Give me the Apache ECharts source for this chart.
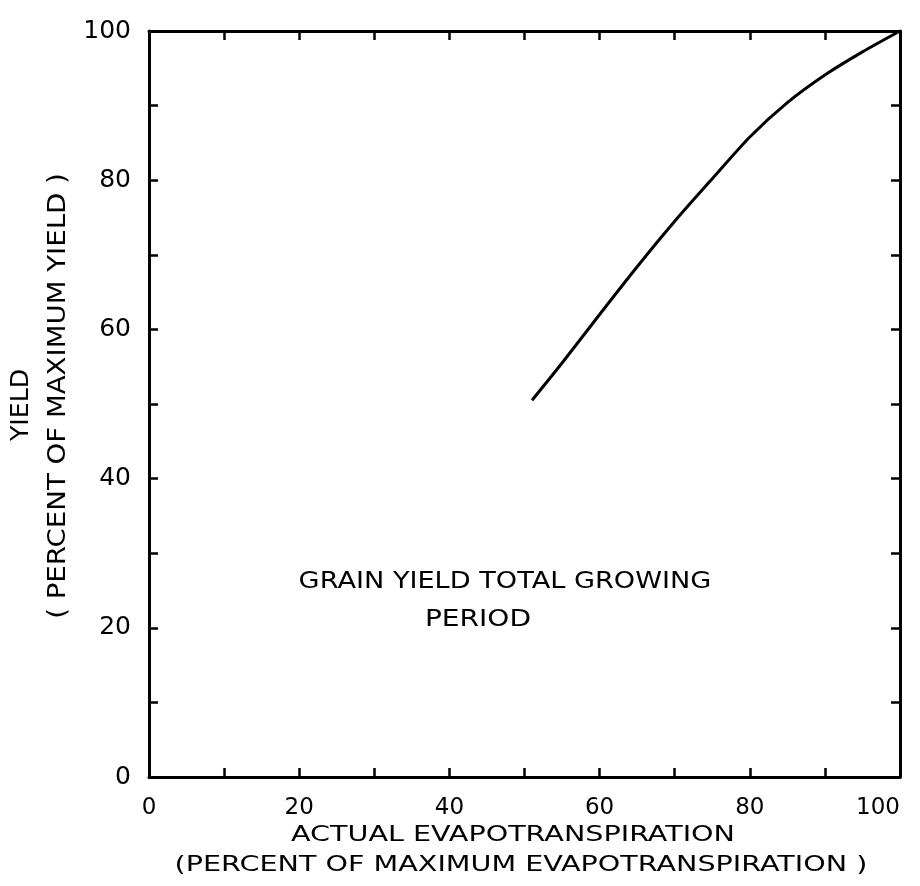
<!DOCTYPE html>
<html>
<head>
<meta charset="utf-8">
<script src="https://cdn.jsdelivr.net/npm/echarts@6/dist/echarts.min.js"></script>
<style>
html,body{margin:0;padding:0;background:#fff;}
#chart{width:920px;height:886px;}
</style>
</head>
<body>
<div id="chart"></div>
<script>
// Data
var etPercent   = [51, 55, 60, 65, 70, 75, 80, 85, 90, 95, 100];
var yieldPercent = [50.5, 55.5, 62, 68.4, 74.5, 80.2, 85.8, 90.4, 94.1, 97.2, 100];
var xTickLabels = ['0', '20', '40', '60', '80', '100'];
var yTickLabels = ['0', '20', '40', '60', '80', '100'];
var xTitle1 = 'ACTUAL EVAPOTRANSPIRATION';
var xTitle2 = '(PERCENT OF MAXIMUM EVAPOTRANSPIRATION )';
var yTitle1 = 'YIELD';
var yTitle2 = '( PERCENT OF MAXIMUM YIELD )';
var noteLine1 = 'GRAIN YIELD TOTAL GROWING';
var noteLine2 = 'PERIOD';

var points = etPercent.map(function (x, i) { return [x, yieldPercent[i]]; });
var FONT = 'DejaVu Sans';
function lab(list) {
  return function (v) { var s = String(v); return list.indexOf(s) >= 0 ? s : ''; };
}
var axisLine = { show: true, onZero: false, lineStyle: { color: '#000', width: 3 } };
var tick = { show: true, inside: true, length: 9, lineStyle: { color: '#000', width: 2.5 } };
function txt(str, x, y, size, sx, rot) {
  return {
    type: 'text', x: x, y: y, scaleX: sx, rotation: rot || 0,
    style: { text: str, fill: '#000', font: size + 'px "DejaVu Sans"', textAlign: 'center', textVerticalAlign: 'middle' }
  };
}

var chart = echarts.init(document.getElementById('chart'), null, { renderer: 'canvas' });
chart.setOption({
  animation: false,
  backgroundColor: '#fff',
  grid: { left: 149, right: 20, top: 31, bottom: 109, containLabel: false, outerBoundsMode: 'none' },
  xAxis: [{
    type: 'value', min: 0, max: 100, interval: 10, position: 'bottom',
    axisLine: axisLine, axisTick: tick, splitLine: { show: false },
    axisLabel: { formatter: lab(xTickLabels), color: '#000', fontFamily: FONT, fontSize: 23, margin: 20, alignMaxLabel: 'right' }
  }, {
    type: 'value', min: 0, max: 100, interval: 10, position: 'top',
    axisLine: axisLine, axisTick: tick, splitLine: { show: false },
    axisLabel: { show: false }
  }],
  yAxis: [{
    type: 'value', min: 0, max: 100, interval: 10, position: 'left',
    axisLine: axisLine, axisTick: tick, splitLine: { show: false },
    axisLabel: { formatter: lab(yTickLabels), color: '#000', fontFamily: FONT, fontSize: 25, margin: 18 }
  }, {
    type: 'value', min: 0, max: 100, interval: 10, position: 'right',
    axisLine: axisLine, axisTick: tick, splitLine: { show: false },
    axisLabel: { show: false }
  }],
  graphic: [
    txt(xTitle1, 513, 835, 22, 1.3),
    txt(xTitle2, 521, 865, 22, 1.3),
    txt(yTitle1, 22, 405, 24, 1.05, Math.PI / 2),
    txt(yTitle2, 59, 396, 24, 1.15, Math.PI / 2),
    txt(noteLine1, 505, 582, 23, 1.18),
    txt(noteLine2, 478, 620, 23, 1.22)
  ],
  series: [{
    type: 'line', data: points, smooth: 0.25, showSymbol: false,
    lineStyle: { color: '#000', width: 3 }
  }]
});
</script>
</body>
</html>
